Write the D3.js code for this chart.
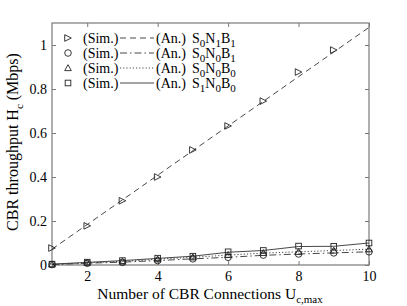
<!DOCTYPE html>
<html>
<head>
<meta charset="utf-8">
<script src="https://cdn.jsdelivr.net/npm/d3@7"></script>
<style>
  body { margin: 0; background: #fff; }
  text { font-family: "Liberation Serif", "DejaVu Serif", serif; fill: #000; }
</style>
</head>
<body>
<div id="graf"></div>
<script>
// Datos
const conexiones = [1, 2, 3, 4, 5, 6, 7, 8, 9, 10]
const simS0N1B1 = [0.077, 0.178, 0.292, 0.4, 0.523, 0.632, 0.745, 0.877, 0.977, null]
const anS0N1B1 = [0.072, 0.184, 0.296, 0.408, 0.52, 0.632, 0.744, 0.856, 0.968, 1.08]
const simS0N0B1 = [0.002, 0.008, 0.012, 0.02, 0.028, 0.035, 0.045, 0.05, 0.055, 0.06]
const anS0N0B1 = [0.002, 0.008, 0.013, 0.02, 0.028, 0.035, 0.044, 0.05, 0.055, 0.06]
const simS0N0B0 = [0.003, 0.011, 0.016, 0.026, 0.035, 0.046, 0.055, 0.06, 0.066, 0.072]
const anS0N0B0 = [0.003, 0.01, 0.016, 0.026, 0.035, 0.045, 0.054, 0.06, 0.066, 0.072]
const simS1N0B0 = [0.004, 0.013, 0.02, 0.031, 0.04, 0.06, 0.066, 0.086, 0.085, 0.1]
const anS1N0B0 = [0.004, 0.012, 0.02, 0.03, 0.04, 0.058, 0.066, 0.084, 0.085, 0.1]
const xTicks = [2, 4, 6, 8, 10]
const yTicks = [0, 0.2, 0.4, 0.6, 0.8, 1]

const series = [
  { sim: simS0N1B1, an: anS0N1B1, marker: "triRight", dash: "6,4", label: ["0", "1", "1"] },
  { sim: simS0N0B1, an: anS0N0B1, marker: "circle", dash: "7,3,1.5,3", label: ["0", "0", "1"] },
  { sim: simS0N0B0, an: anS0N0B0, marker: "triUp", dash: "1.2,2", label: ["0", "0", "0"] },
  { sim: simS1N0B0, an: anS1N0B0, marker: "square", dash: null, label: ["1", "0", "0"] }
]

const ancho = 407
const alto = 306
const margen = { top: 23, right: 38, bottom: 41, left: 52 }
const gris = "#7a7a7a"

const svg = d3.select("#graf")
  .append("svg")
  .attr("width", ancho)
  .attr("height", alto)

const x = d3.scaleLinear().domain([1, 10]).range([margen.left, ancho - margen.right])
const y = d3.scaleLinear().domain([0, 1.1]).range([alto - margen.bottom, margen.top])

// Marcadores
const marcador = (g, tipo, cx, cy) => {
  const s = 3.3
  if (tipo === "triRight") {
    g.append("path").attr("d", `M${cx - s},${cy - s}L${cx + s},${cy}L${cx - s},${cy + s}Z`)
  } else if (tipo === "circle") {
    g.append("circle").attr("cx", cx).attr("cy", cy).attr("r", s)
  } else if (tipo === "triUp") {
    g.append("path").attr("d", `M${cx},${cy - s}L${cx + s},${cy + s * 0.8}L${cx - s},${cy + s * 0.8}Z`)
  } else {
    g.append("rect").attr("x", cx - s * 0.85).attr("y", cy - s * 0.85).attr("width", s * 1.7).attr("height", s * 1.7)
  }
}

// Ejes
const fondo = svg.append("g")
fondo.append("rect")
  .attr("x", margen.left).attr("y", margen.top)
  .attr("width", ancho - margen.left - margen.right)
  .attr("height", alto - margen.top - margen.bottom)
  .attr("fill", "none").attr("stroke", gris).attr("stroke-width", 1.2)

const ejeX = svg.append("g")
  .attr("transform", `translate(0, ${alto - margen.bottom})`)
  .call(d3.axisBottom(x).tickValues(xTicks).tickSize(-4).tickPadding(6).tickFormat(d3.format("d")))
const ejeXTop = svg.append("g")
  .attr("transform", `translate(0, ${margen.top})`)
  .call(d3.axisTop(x).tickValues(xTicks).tickSize(-4).tickFormat(""))
const ejeY = svg.append("g")
  .attr("transform", `translate(${margen.left}, 0)`)
  .call(d3.axisLeft(y).tickValues(yTicks).tickSize(-4).tickPadding(5).tickFormat((d) => d === 0 || d === 1 ? d : d3.format(".1f")(d)))
const ejeYRight = svg.append("g")
  .attr("transform", `translate(${ancho - margen.right}, 0)`)
  .call(d3.axisRight(y).tickValues(yTicks).tickSize(-4).tickFormat(""))

;[ejeX, ejeXTop, ejeY, ejeYRight].forEach((e) => {
  e.select(".domain").remove()
  e.selectAll(".tick line").attr("stroke", gris)
  e.selectAll("text").attr("font-size", 14).attr("font-family", "Liberation Serif").attr("fill", "#000")
})

// Lineas analiticas
const linea = d3.line()
  .x((d, i) => x(conexiones[i]))
  .y((d) => y(d))

const datos = svg.append("g")
series.forEach((s) => {
  datos.append("path")
    .attr("d", linea(s.an))
    .attr("fill", "none")
    .attr("stroke", "#333")
    .attr("stroke-width", 0.9)
    .attr("stroke-dasharray", s.dash)
})

// Simulacion
series.forEach((s) => {
  const g = datos.append("g").attr("fill", "none").attr("stroke", "#222").attr("stroke-width", 0.9)
  s.sim.forEach((v, i) => {
    if (v !== null) marcador(g, s.marker, x(conexiones[i]), y(v))
  })
})

// Leyenda
const leyenda = svg.append("g").attr("font-size", 14)
series.forEach((s, i) => {
  const yy = 38 + i * 15
  const gm = leyenda.append("g").attr("fill", "none").attr("stroke", "#222").attr("stroke-width", 0.9)
  marcador(gm, s.marker, 68, yy)
  leyenda.append("text").attr("x", 83).attr("y", yy + 5).text("(Sim.)")
  leyenda.append("line")
    .attr("x1", 120).attr("x2", 154)
    .attr("y1", yy).attr("y2", yy)
    .attr("stroke", "#333").attr("stroke-width", 0.9)
    .attr("stroke-dasharray", s.dash)
  leyenda.append("text").attr("x", 156).attr("y", yy + 5).text("(An.)")
  const t = leyenda.append("text").attr("x", 192).attr("y", yy + 5)
  t.append("tspan").text("S")
  t.append("tspan").attr("font-size", 11).attr("dy", 4).text(s.label[0])
  t.append("tspan").attr("dy", -4).text("N")
  t.append("tspan").attr("font-size", 11).attr("dy", 4).text(s.label[1])
  t.append("tspan").attr("dy", -4).text("B")
  t.append("tspan").attr("font-size", 11).attr("dy", 4).text(s.label[2])
})

// Titulos de ejes
const tx = svg.append("text")
  .attr("x", 210).attr("y", 299)
  .attr("text-anchor", "middle")
  .attr("font-size", 15.5)
tx.append("tspan").text("Number of CBR Connections U")
tx.append("tspan").attr("font-size", 11).attr("dy", 4).text("c,max")

const ty = svg.append("text")
  .attr("transform", "translate(18, 142) rotate(-90)")
  .attr("text-anchor", "middle")
  .attr("font-size", 16)
ty.append("tspan").text("CBR throughput H")
ty.append("tspan").attr("font-size", 11).attr("dy", 5).text("c")
ty.append("tspan").attr("dy", -5).text(" (Mbps)")
</script>
</body>
</html>
